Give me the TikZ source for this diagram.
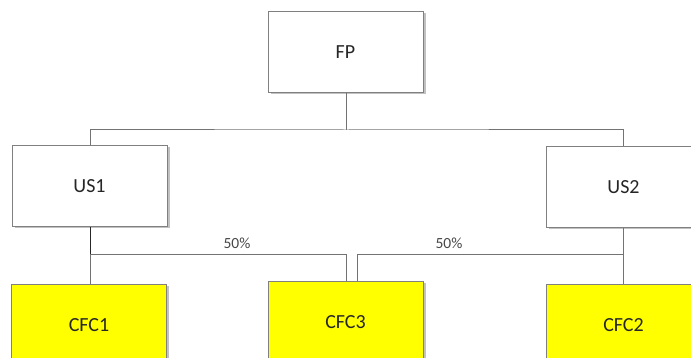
\documentclass[tikz,border=0pt]{standalone}
\usepackage{fontspec}
\setmainfont{Carlito}
\usetikzlibrary{shadows}
\definecolor{edge}{HTML}{808080}
\definecolor{ink}{HTML}{262626}
\definecolor{cfcfill}{HTML}{FFFF00}
\tikzset{
  box/.style={draw=edge, line width=1pt, minimum width=155pt, minimum height=81pt,
    inner sep=0pt, font=\fontsize{20}{24}\selectfont, text=ink, fill=white,
    drop shadow={shadow xshift=2.5pt, shadow yshift=-1.5pt, opacity=0.35, fill=black!70}},
  cfcbox/.style={box, fill=cfcfill},
  link/.style={draw=edge!90!black, line width=1pt},
  strong/.style={draw=black!85, line width=1pt},
  pct/.style={font=\fontsize{15.5}{18}\selectfont, text=ink!85, inner sep=0pt}
}
\begin{document}
\begin{tikzpicture}[x=1pt, y=-1pt]
  \useasboundingbox (0,0) rectangle (691,358);
  \clip (0,0) rectangle (691,358);

  % holding chain
  \node[box] (fp)  at (345.5,52)  {FP};
  \node[box] (us1) at (89.5,186.5) {US1};
  \node[box] (us2) at (623.5,187.5) {US2};
  \node[cfcbox] (cfc1) at (89,325)   {CFC1};
  \node[cfcbox] (cfc3) at (345.5,322) {CFC3};
  \node[cfcbox] (cfc2) at (623.5,325) {CFC2};

  % junction points
  \coordinate (top)  at (346,130);
  \coordinate (j1)   at (90,255);
  \coordinate (j2)   at (623,255);
  \coordinate (in1)  at (346,281);
  \coordinate (in2)  at (357,281);

  % FP to both US entities
  \draw[link] (fp.south -| top) -- (top);
  \draw[link] (us1.north -| j1) |- (top) -| (us2.north -| j2);

  % US1 to CFC1 and its share in CFC3
  \draw[strong] (us1.south -| j1) -- (j1);
  \draw[link] (j1) -- (cfc1.north -| j1);
  \draw[link] (j1) -| (in1);

  % US2 to CFC2 and its share in CFC3
  \draw[link] (us2.south -| j2) -- (cfc2.north -| j2);
  \draw[link] (j2) -| (in2);

  \node[pct] (p1) at (237,243) {50\%};
  \node[pct] (p2) at (449,243) {50\%};
\end{tikzpicture}
\end{document}
